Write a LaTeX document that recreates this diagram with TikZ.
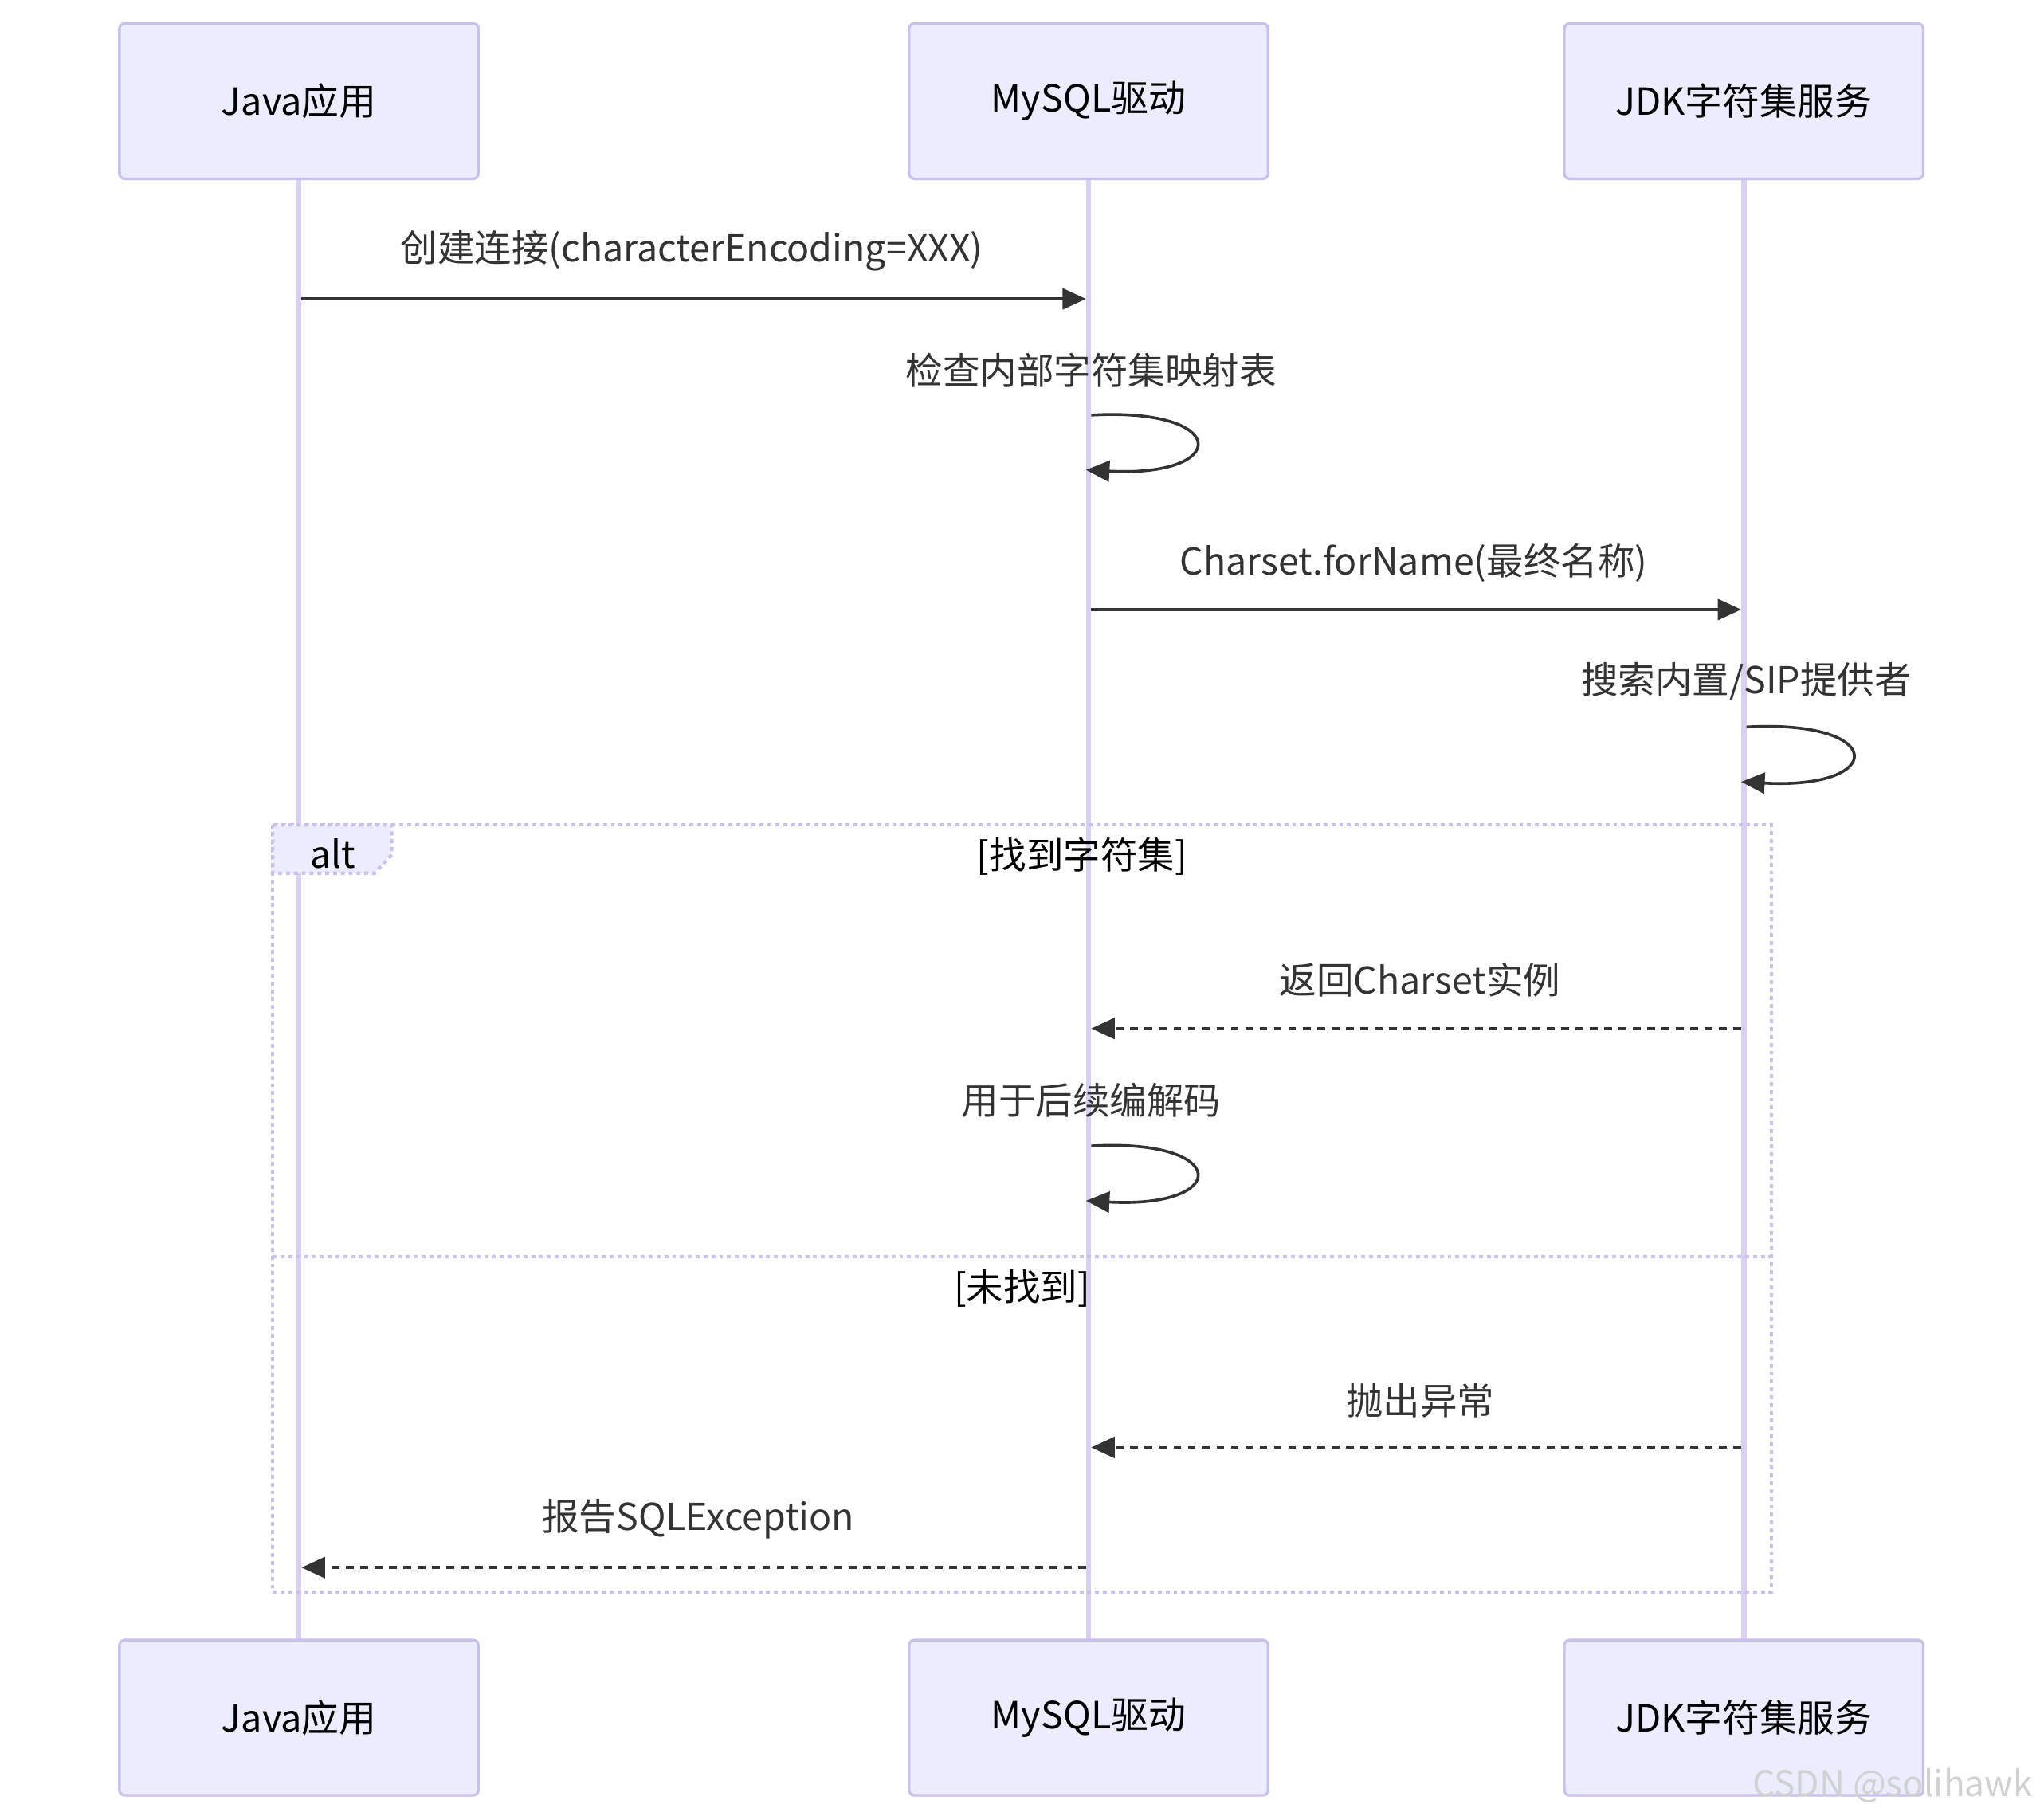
\documentclass[tikz,border=0pt]{standalone}
\usepackage{fontspec}
\setmainfont{Noto Sans CJK SC}
\usetikzlibrary{arrows.meta}
\definecolor{boxfill}{HTML}{ECECFF}
\definecolor{boxline}{HTML}{C9C0EE}
\definecolor{life}{HTML}{D9CFF0}
\definecolor{ink}{HTML}{333333}
\begin{document}
\begin{tikzpicture}[x=0.5pt,y=-0.5pt,
  actor/.style={draw=boxline,fill=boxfill,line width=1pt,rounded corners=2pt,minimum width=137.5pt,minimum height=59.5pt,font=\fontsize{14.3}{16}\selectfont,text=black,inner sep=0pt},
  lbl/.style={font=\fontsize{14.2}{16}\selectfont,text=ink,inner sep=0pt},
  msg/.style={draw=ink,line width=1.1pt,-{Triangle[length=9pt,width=8pt]}},
  ret/.style={msg,dash pattern=on 3pt off 2.5pt},
  lifeline/.style={draw=life,line width=2pt},
  frame/.style={draw=boxline,line width=1.3pt,dash pattern=on 1.5pt off 1.5pt}]
\useasboundingbox (0,0) rectangle (1566,1394);
% lifelines
\coordinate (j1) at (229,137); \coordinate (j2) at (229,1257);
\coordinate (m1) at (834,137); \coordinate (m2) at (834,1257);
\coordinate (k1) at (1336,137); \coordinate (k2) at (1336,1257);
\draw[lifeline] (j1)--(j2); \draw[lifeline] (m1)--(m2); \draw[lifeline] (k1)--(k2);
% actors
\node[actor] (ja) at (229,77.5) {Java应用};
\node[actor] (ma) at (834,77.5) {MySQL驱动};
\node[actor] (ka) at (1336,77.5) {JDK字符集服务};
\node[actor] (jb) at (229,1316) {Java应用};
\node[actor] (mb) at (834,1316) {MySQL驱动};
\node[actor] (kb) at (1336,1316) {JDK字符集服务};
% alt frame
\draw[frame] (209,632) rectangle (1357,1220);
\draw[frame,fill=boxfill] (209,632) -- (300,632) -- (300,655) -- (287,669) -- (209,669) -- cycle;
\node[lbl,text=black] (alt) at (255,654) {alt};
\node[lbl,text=black] (c1) at (829,656) {[找到字符集]};
\draw[frame] (209,963) -- (1357,963);
\node[lbl,text=black] (c2) at (783,987) {[未找到]};
% message coordinates
\coordinate (a1) at (231,229); \coordinate (b1) at (832,229);
\coordinate (a3) at (836,467); \coordinate (b3) at (1334,467);
\coordinate (a5) at (1334,788); \coordinate (b5) at (836,788);
\coordinate (a7) at (1334,1109); \coordinate (b7) at (836,1109);
\coordinate (a8) at (832,1201); \coordinate (b8) at (231,1201);
\node[lbl] (l1) at (530,192) {创建连接(characterEncoding=XXX)};
\draw[msg] (a1) -- (b1);
\node[lbl] (l2) at (836,284) {检查内部字符集映射表};
\coordinate (s2) at (836,318); \coordinate (e2) at (832,360);
\draw[msg] (s2) .. controls (943,312) and (943,366) .. (e2);
\node[lbl] (l3) at (1083,431) {Charset.forName(最终名称)};
\draw[msg] (a3) -- (b3);
\node[lbl] (l4) at (1338,522) {搜索内置/SIP提供者};
\coordinate (s4) at (1338,557); \coordinate (e4) at (1334,599);
\draw[msg] (s4) .. controls (1446,551) and (1446,605) .. (e4);
\node[lbl] (l5) at (1088,751) {返回Charset实例};
\draw[ret] (a5) -- (b5);
\node[lbl] (l6) at (836,843) {用于后续编解码};
\coordinate (s6) at (836,878); \coordinate (e6) at (832,920);
\draw[msg] (s6) .. controls (943,872) and (943,926) .. (e6);
\node[lbl] (l7) at (1088,1073) {抛出异常};
\draw[ret] (a7) -- (b7);
\node[lbl] (l8) at (535,1164) {报告SQLException};
\draw[ret] (a8) -- (b8);
\node[font=\fontsize{13.5}{15}\selectfont,text=black!18] (wm) at (1450,1368) {CSDN @solihawk};
\end{tikzpicture}
\end{document}
